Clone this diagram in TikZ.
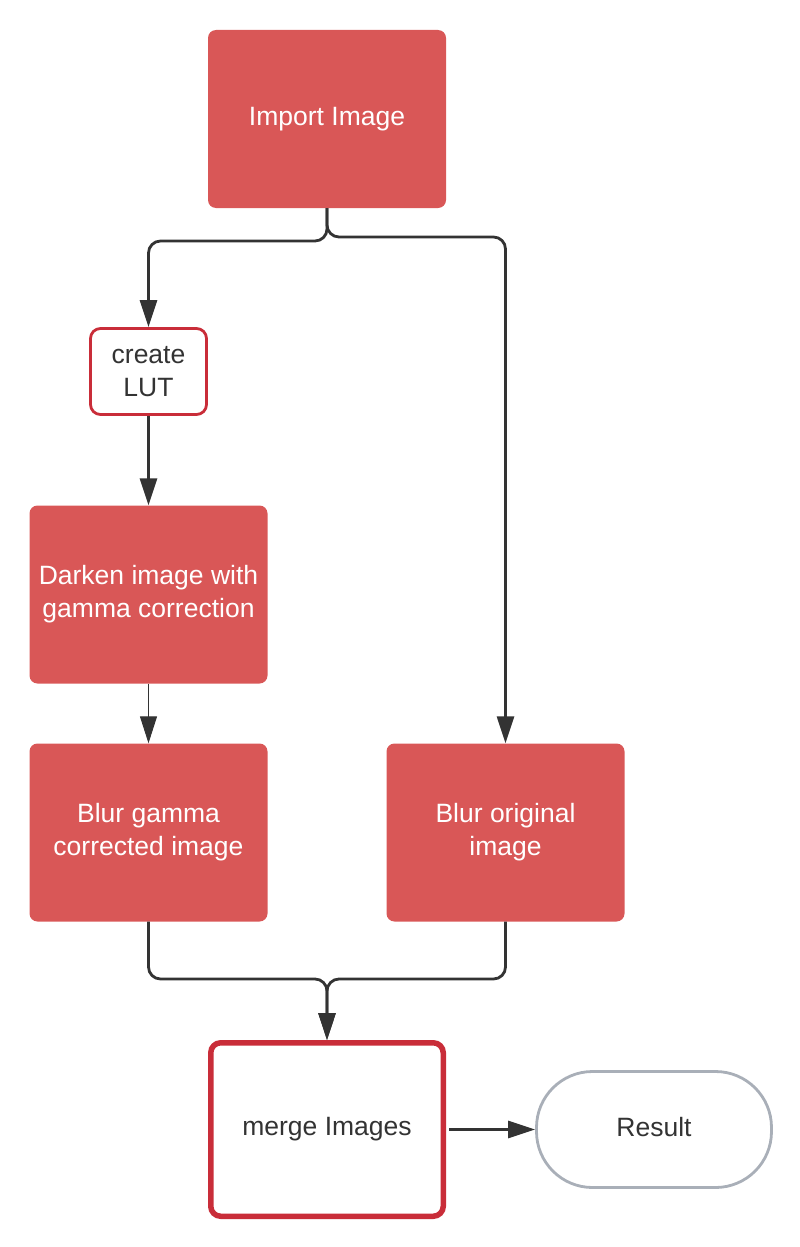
\documentclass[tikz,border=0pt]{standalone}
\usepackage{fontspec}
\setmainfont{Liberation Sans}
\usetikzlibrary{arrows.meta}
\definecolor{boxred}{HTML}{D95757}
\definecolor{edgered}{HTML}{C92D39}
\definecolor{edgegray}{HTML}{A9AFB8}
\definecolor{linegray}{HTML}{333333}

\begin{document}
\begin{tikzpicture}[x=1pt, y=-1pt,
  every node/.style={font=\fontsize{26.5}{33}\selectfont, align=center, inner sep=0pt},
  redbox/.style={fill=boxred, text=white, rounded corners=8pt, minimum width=238pt, minimum height=178pt},
  lutbox/.style={draw=edgered, line width=2.8pt, text=linegray, rounded corners=10pt, minimum width=116pt, minimum height=86pt},
  mergebox/.style={draw=edgered, line width=5.5pt, text=linegray, rounded corners=10pt, minimum width=232.5pt, minimum height=173.5pt},
  endbox/.style={draw=edgegray, line width=2.8pt, text=linegray, rounded corners=56pt, minimum width=235pt, minimum height=116pt},
  flow/.style={draw=linegray, line width=2.8pt, rounded corners=12pt, -{Triangle[length=27pt,width=17pt]}}]

\useasboundingbox (0,0) rectangle (800,1247);

%Boxes
\node[redbox] (import) at (327,119) {Import Image};
\node[lutbox] (lut) at (148.5,371.5) {create\\LUT};
\node[redbox] (darken) at (148.5,594.5) {Darken image with\\gamma correction};
\node[redbox] (blurgamma) at (148.5,832.5) {Blur gamma\\corrected image};
\node[redbox] (blurorig) at (505.5,832.5) {Blur original\\image};
\node[mergebox] (merge) at (327,1129.5) {merge Images};
\node[endbox] (result) at (654,1129.5) {Result\vphantom{g}};

% Split after the import
\draw[flow] (import.south) -- (327,241) -- (148.5,241) -- (lut.north);
\draw[flow] (import.south) -- (327,237) -- (505.5,237) -- (blurorig.north);

% Gamma branch
\draw[flow] (lut.south) -- (darken.north);
\draw[flow, line width=1pt] (darken.south) -- (blurgamma.north);

% Join into the merge
\draw[flow] (blurgamma.south) -- (148.5,979) -- (327,979) -- (merge.north);
\draw[flow] (blurorig.south) -- (505.5,979) -- (327,979) -- (merge.north);
\draw[flow] ([xshift=3pt]merge.east) -- (result.west);

\end{tikzpicture}
\end{document}
